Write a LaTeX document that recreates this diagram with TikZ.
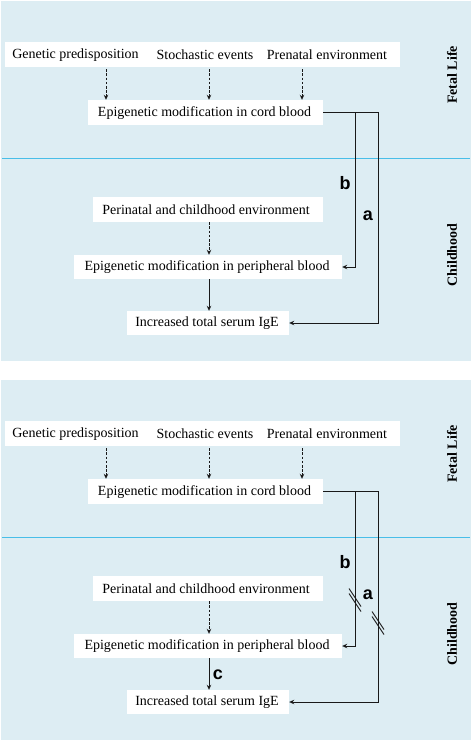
\documentclass[tikz,border=0pt]{standalone}
\usepackage{fontspec}
\setmainfont{Liberation Serif}
\newfontfamily\labfont{Liberation Sans}
\usetikzlibrary{arrows.meta}
\definecolor{bgblue}{RGB}{221,237,243}
\definecolor{lineblue}{RGB}{72,190,232}
\definecolor{ink}{RGB}{25,25,25}
\tikzset{
  box/.style={fill=white, inner sep=0pt, draw=none},
  txt/.style={inner sep=0pt, font=\fontsize{14}{16}\selectfont},
  side/.style={inner sep=0pt, rotate=90, font=\fontsize{14}{16}\selectfont\bfseries},
  lab/.style={inner sep=0pt, font=\fontsize{18}{20}\selectfont\labfont\bfseries},
  conn/.style={draw=ink, line width=0.9pt, -{Stealth[length=5pt,width=4.5pt]}},
  dconn/.style={conn, dash pattern=on 2.6pt off 1.6pt},
  brk/.style={draw=ink, line width=0.9pt},
}
\newcommand\epipanel[1]{%
  \fill[bgblue] (1,1) rectangle (471,361);
  \fill[lineblue] (2,157.6) rectangle (470,159.2);
  \node[box, minimum width=395pt, minimum height=25pt] (#1top) at (202.5,54.5) {};
  \node[txt] (#1gen) at (75.5,55) {Genetic predisposition};
  \node[txt] (#1sto) at (205,55) {Stochastic events};
  \node[txt] (#1pre) at (327,55) {Prenatal environment};
  \node[box, minimum width=235pt, minimum height=25pt] (#1cord) at (205.5,112.5) {};
  \node[txt] (#1cordt) at (204.5,113) {Epigenetic modification in cord blood};
  \node[box, minimum width=230pt, minimum height=25pt] (#1env) at (208,209.5) {};
  \node[txt] (#1envt) at (206,210) {Perinatal and childhood environment};
  \node[box, minimum width=268pt, minimum height=24pt] (#1per) at (208,267) {};
  \node[txt] (#1pert) at (207,267.5) {Epigenetic modification in peripheral blood};
  \node[box, minimum width=162pt, minimum height=24pt] (#1ige) at (208,323) {};
  \node[txt] (#1iget) at (207,323.5) {Increased total serum IgE};
  \node[side] (#1fetal) at (452,75) {Fetal Life};
  \node[side] (#1child) at (452,255) {Childhood};
  \draw[dconn] (#1top.south -| 106,0) ++(0,2) -- (#1cord.north -| 106,0);
  \draw[dconn] (#1top.south -| 209,0) ++(0,2) -- (#1cord.north -| 209,0);
  \draw[dconn] (#1top.south -| 302,0) ++(0,2) -- (#1cord.north -| 302,0);
  \draw[dconn] (#1env.south -| 209,0) -- (#1per.north -| 209,0);
  \draw[conn] (#1per.south -| 209,0) -- (#1ige.north -| 209,0);
  \coordinate (#1bsplit) at (355,112.5);
  \draw[conn] (#1cord.east) -- (378,112.5) |- (#1ige.east);
  \draw[conn] (#1bsplit) |- (#1per.east);
  \node[lab] (#1b) at (345,183) {b};
  \node[lab] (#1a) at (368,216) {a};
}
\begin{document}
\begin{tikzpicture}[x=1pt,y=-1pt]
\useasboundingbox (0,0) rectangle (472,742);
\fill[white] (0,0) rectangle (472,742);
\epipanel{t}
\begin{scope}[shift={(0,379)}]
\epipanel{u}
\node[lab] (uc) at (218,296) {c};
\foreach \cx/\cy in {355/221, 378/244}{
  \draw[brk] (\cx-6,\cy-11.5) -- (\cx+6,\cy+6.5);
  \draw[brk] (\cx-6,\cy-6.5) -- (\cx+6,\cy+11.5);
}
\end{scope}
\end{tikzpicture}
\end{document}
